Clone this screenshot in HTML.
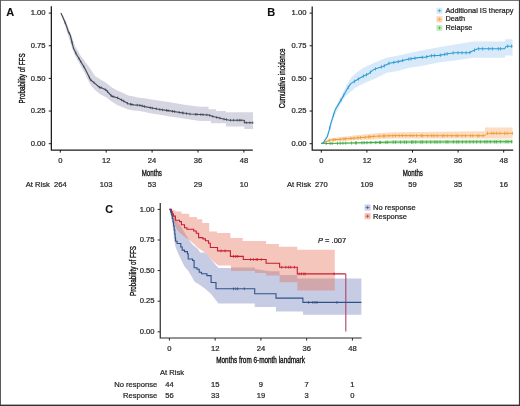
<!DOCTYPE html>
<html><head><meta charset="utf-8"><style>
html,body{margin:0;padding:0;background:#fff;width:520px;height:406px;overflow:hidden}
svg text{font-family:"Liberation Sans", sans-serif}
svg{will-change:transform;filter:blur(0.3px)}
svg text{stroke:currentColor;stroke-width:0.22px}
svg text.t{stroke-width:0.35px}
</style></head><body>
<svg width="520" height="406" viewBox="0 0 520 406" style="display:block">
<rect x="0" y="0" width="520" height="406" fill="#fff"/>
<text x="6.3" y="15.8" font-size="11" font-weight="bold" fill="#111" style="color:#111;stroke-width:0.1px">A</text>
<polygon points="60.9,12.9 63.0,15.5 65.0,19.5 67.5,25.5 70.0,31.5 72.5,38.5 75.0,46.0 78.0,51.0 80.3,55.3 85.0,61.6 90.5,68.9 95.0,76.1 100.5,79.4 106.1,82.8 111.6,87.2 117.2,90.5 122.7,92.7 128.3,95.5 133.8,96.6 139.3,97.7 144.9,98.3 150.0,99.3 160.0,100.8 170.0,102.2 180.0,104.0 190.0,105.5 200.0,106.7 208.6,106.7 208.6,109.2 216.0,109.2 216.0,111.0 225.9,111.0 225.9,112.2 253.0,112.2 253.0,128.9 244.3,128.9 244.3,126.4 225.9,126.4 225.9,123.3 211.0,123.3 211.0,120.9 200.0,120.9 190.0,119.5 180.0,118.0 170.0,116.5 160.0,114.8 150.0,113.2 144.9,112.1 139.3,111.0 133.8,110.5 128.3,109.4 122.7,107.2 117.2,104.9 111.6,101.6 106.1,97.2 100.5,94.4 95.0,90.0 91.0,85.5 88.0,80.0 85.0,73.5 82.4,68.9 78.0,61.0 75.0,55.5 72.0,48.0 69.5,40.0 67.0,32.0 64.5,24.0 62.5,18.0 60.9,12.9" fill="#d5d6e1"/>
<polyline points="60.9,12.9 62.5,16.5 64.6,21.2 66.5,26.0 68.3,31.6 70.2,35.0 71.2,39.0 72.2,43.1 73.6,48.6 76.3,54.0 80.3,60.7 84.4,67.5 87.8,74.3 90.5,79.7 94.6,83.1 99.3,87.2 101.0,87.6 106.1,90.0 111.6,96.1 117.2,97.7 122.7,100.5 128.3,103.8 133.8,104.9 139.3,105.2 144.9,106.6 152.0,108.0 160.0,109.5 170.0,110.9 180.0,112.5 190.0,114.0 200.0,114.5 208.6,115.0 213.0,116.5 218.5,117.8 223.4,119.0 229.6,120.2 244.3,120.2 244.3,122.7 253.0,122.7" fill="none" stroke="#434959" stroke-width="1.15" stroke-linejoin="round"/>
<path d="M65.2,21.5v2.6 M69.3,32.1v2.6 M72.0,41.0v2.6 M75.9,51.9v2.6 M79.2,57.5v2.6 M80.7,60.1v2.6 M83.7,65.1v2.6 M89.4,76.2v2.6 M90.9,78.7v2.6 M94.0,81.3v2.6 M99.5,85.9v2.6 M101.1,86.4v2.6 M105.4,88.4v2.6 M107.5,90.3v2.6 M111.2,94.4v2.6 M113.0,95.2v2.6 M117.6,96.6v2.6 M121.5,98.6v2.6 M123.7,99.8v2.6 M127.5,102.0v2.6 M130.5,102.9v2.6 M131.9,103.2v2.6 M137.2,103.8v2.6 M139.9,104.0v2.6 M142.2,104.6v2.6 M144.6,105.2v2.6 M150.3,106.4v2.6 M152.3,106.8v2.6 M156.3,107.5v2.6 M159.9,108.2v2.6 M162.6,108.6v2.6 M166.5,109.1v2.6 M168.1,109.3v2.6 M172.5,110.0v2.6 M174.6,110.3v2.6 M179.3,111.1v2.6 M182.3,111.6v2.6 M183.2,111.7v2.6 M186.5,112.2v2.6 M190.0,112.7v2.6 M195.4,113.0v2.6 M197.0,113.1v2.6 M200.8,113.2v2.6 M203.0,113.4v2.6 M206.8,113.6v2.6 M209.7,114.1v2.6 M212.8,115.1v2.6 M216.7,116.1v2.6 M219.9,116.8v2.6 M224.0,117.8v2.6 M226.5,118.3v2.6 M230.5,118.9v2.6 M233.5,118.9v2.6 M237.1,118.9v2.6 M239.3,118.9v2.6 M241.0,118.9v2.6 M246.3,121.4v2.6 M249.8,121.4v2.6 M252.8,121.4v2.6" stroke="#3b4252" stroke-width="0.7" fill="none"/>
<path d="M51.35,6.3 V150 H252.8" fill="none" stroke="#1a1a1a" stroke-width="1.25"/>
<path d="M48.75,13.1 H51.35" stroke="#1a1a1a" stroke-width="1"/>
<text x="45.550000000000004" y="15.39" font-size="7.6" text-anchor="end" fill="#262626" style="color:#262626" >1.00</text>
<path d="M48.75,45.75 H51.35" stroke="#1a1a1a" stroke-width="1"/>
<text x="45.550000000000004" y="48.04" font-size="7.6" text-anchor="end" fill="#262626" style="color:#262626" >0.75</text>
<path d="M48.75,78.4 H51.35" stroke="#1a1a1a" stroke-width="1"/>
<text x="45.550000000000004" y="80.69" font-size="7.6" text-anchor="end" fill="#262626" style="color:#262626" >0.50</text>
<path d="M48.75,111.05 H51.35" stroke="#1a1a1a" stroke-width="1"/>
<text x="45.550000000000004" y="113.34" font-size="7.6" text-anchor="end" fill="#262626" style="color:#262626" >0.25</text>
<path d="M48.75,143.7 H51.35" stroke="#1a1a1a" stroke-width="1"/>
<text x="45.550000000000004" y="145.99" font-size="7.6" text-anchor="end" fill="#262626" style="color:#262626" >0.00</text>
<path d="M60.3,150 V152.6" stroke="#1a1a1a" stroke-width="1"/>
<text x="60.3" y="162.74" font-size="7.6" text-anchor="middle" fill="#262626" style="color:#262626" >0</text>
<path d="M106.19999999999999,150 V152.6" stroke="#1a1a1a" stroke-width="1"/>
<text x="106.19999999999999" y="162.74" font-size="7.6" text-anchor="middle" fill="#262626" style="color:#262626" >12</text>
<path d="M152.1,150 V152.6" stroke="#1a1a1a" stroke-width="1"/>
<text x="152.1" y="162.74" font-size="7.6" text-anchor="middle" fill="#262626" style="color:#262626" >24</text>
<path d="M198.0,150 V152.6" stroke="#1a1a1a" stroke-width="1"/>
<text x="198.0" y="162.74" font-size="7.6" text-anchor="middle" fill="#262626" style="color:#262626" >36</text>
<path d="M243.89999999999998,150 V152.6" stroke="#1a1a1a" stroke-width="1"/>
<text x="243.89999999999998" y="162.74" font-size="7.6" text-anchor="middle" fill="#262626" style="color:#262626" >48</text>
<text x="151.8" y="175.7" font-size="8.6" text-anchor="middle" fill="#111" class="t" style="color:#111" textLength="20.2" lengthAdjust="spacingAndGlyphs">Months</text>
<text transform="translate(25.4,78.4) rotate(-90)" font-size="8.4" text-anchor="middle" fill="#111" class="t" style="color:#111" textLength="50" lengthAdjust="spacingAndGlyphs">Probability of FFS</text>
<text x="25.8" y="187.34" font-size="7.6" text-anchor="start" fill="#262626" style="color:#262626" >At Risk</text>
<text x="60.3" y="187.34" font-size="7.6" text-anchor="middle" fill="#262626" style="color:#262626" >264</text>
<text x="106.19999999999999" y="187.34" font-size="7.6" text-anchor="middle" fill="#262626" style="color:#262626" >103</text>
<text x="152.1" y="187.34" font-size="7.6" text-anchor="middle" fill="#262626" style="color:#262626" >53</text>
<text x="198.0" y="187.34" font-size="7.6" text-anchor="middle" fill="#262626" style="color:#262626" >29</text>
<text x="243.89999999999998" y="187.34" font-size="7.6" text-anchor="middle" fill="#262626" style="color:#262626" >10</text>
<text x="267.3" y="15.6" font-size="11" font-weight="bold" fill="#111" style="color:#111;stroke-width:0.1px">B</text>
<polygon points="321.3,143.4 395.0,140.2 512.5,139.6 512.5,143.6 395.0,143.7 321.3,143.8" fill="#c9ebc4"/>
<polygon points="321.3,143.3 330.0,138.6 353.5,135.5 376.5,133.3 395.0,132.3 485.0,131.3 485.0,127.5 512.5,127.5 512.5,138.4 485.0,138.4 395.0,138.6 353.5,140.3 330.0,141.5 321.3,143.3" fill="#fcdcc2"/>
<polygon points="321.3,143.4 323.0,142.5 325.5,138.0 327.5,133.0 329.5,125.0 331.5,118.0 333.5,111.5 336.0,106.0 338.5,101.0 341.0,96.0 345.0,88.2 351.3,77.2 357.0,72.3 363.1,67.7 373.8,63.1 386.2,57.7 398.5,55.4 409.2,53.1 420.0,50.8 440.0,46.9 455.0,44.6 473.0,41.5 505.0,41.5 505.0,39.2 512.5,39.2 512.5,55.4 505.0,55.4 505.0,57.7 473.0,57.7 455.0,60.5 440.0,62.3 420.0,66.2 409.2,67.7 398.5,70.8 386.2,73.1 375.4,78.5 364.6,83.1 355.4,87.7 349.2,93.1 345.0,96.5 342.5,101.0 340.0,105.0 337.0,111.0 334.5,116.5 332.5,121.5 330.5,129.0 328.5,135.5 326.5,140.0 324.0,143.8 321.3,143.4" fill="#d8eaf9"/>
<polyline points="321.3,143.6 395.0,142.1 512.5,141.7" fill="none" stroke="#3fa844" stroke-width="1"/>
<path d="M326.2,141.9v3.2 M330.1,141.8v3.2 M332.1,141.8v3.2 M337.5,141.7v3.2 M340.2,141.6v3.2 M342.9,141.6v3.2 M345.7,141.5v3.2 M351.6,141.4v3.2 M355.5,141.3v3.2 M356.3,141.3v3.2 M361.9,141.2v3.2 M364.2,141.1v3.2 M367.0,141.1v3.2 M370.9,141.0v3.2 M375.8,140.9v3.2 M379.6,140.8v3.2 M380.6,140.8v3.2 M385.8,140.7v3.2 M387.6,140.6v3.2 M393.2,140.5v3.2 M395.5,140.5v3.2 M400.6,140.5v3.2 M404.4,140.5v3.2 M406.5,140.5v3.2 M411.5,140.4v3.2 M412.9,140.4v3.2 M415.7,140.4v3.2 M420.8,140.4v3.2 M422.6,140.4v3.2 M426.6,140.4v3.2 M430.7,140.4v3.2 M434.8,140.4v3.2 M437.0,140.4v3.2 M440.1,140.3v3.2 M446.1,140.3v3.2 M447.9,140.3v3.2 M453.4,140.3v3.2 M456.7,140.3v3.2 M458.6,140.3v3.2 M462.4,140.3v3.2 M466.1,140.3v3.2 M469.9,140.2v3.2 M473.3,140.2v3.2 M476.7,140.2v3.2 M480.4,140.2v3.2 M484.8,140.2v3.2 M487.0,140.2v3.2 M490.3,140.2v3.2 M494.7,140.2v3.2 M496.7,140.2v3.2 M500.4,140.1v3.2 M505.9,140.1v3.2 M508.1,140.1v3.2 M511.6,140.1v3.2" stroke="#3fa844" stroke-width="0.8" fill="none"/>
<polyline points="321.3,143.3 330.4,140.0 353.5,138.2 376.5,136.2 395.0,135.6 430.0,135.7 485.0,135.7 487.0,133.3 512.5,133.3" fill="none" stroke="#ef9a2e" stroke-width="1"/>
<path d="M324.5,140.5v3.2 M329.2,138.8v3.2 M333.2,138.2v3.2 M335.1,138.0v3.2 M340.3,137.6v3.2 M343.9,137.3v3.2 M345.7,137.2v3.2 M350.9,136.8v3.2 M353.9,136.6v3.2 M358.0,136.2v3.2 M360.6,136.0v3.2 M365.1,135.6v3.2 M368.7,135.3v3.2 M370.1,135.2v3.2 M373.7,134.8v3.2 M379.0,134.5v3.2 M383.4,134.4v3.2 M384.8,134.3v3.2 M388.9,134.2v3.2 M392.8,134.1v3.2 M395.5,134.0v3.2 M399.1,134.0v3.2 M402.4,134.0v3.2 M406.1,134.0v3.2 M410.3,134.0v3.2 M412.9,134.1v3.2 M416.6,134.1v3.2 M421.3,134.1v3.2 M422.6,134.1v3.2 M427.7,134.1v3.2 M431.7,134.1v3.2 M433.9,134.1v3.2 M437.2,134.1v3.2 M442.4,134.1v3.2 M444.2,134.1v3.2 M447.6,134.1v3.2 M451.8,134.1v3.2 M456.1,134.1v3.2 M457.8,134.1v3.2 M462.0,134.1v3.2 M465.5,134.1v3.2 M470.5,134.1v3.2 M472.8,134.1v3.2 M477.6,134.1v3.2 M479.0,134.1v3.2 M483.0,134.1v3.2 M487.5,131.7v3.2 M491.7,131.7v3.2 M493.9,131.7v3.2 M496.7,131.7v3.2 M499.9,131.7v3.2 M504.6,131.7v3.2 M507.1,131.7v3.2 M512.4,131.7v3.2" stroke="#ef9a2e" stroke-width="0.8" fill="none"/>
<polyline points="321.3,143.4 323.0,143.2 325.0,140.0 327.2,136.9 329.1,130.7 330.9,123.3 333.4,115.3 335.2,109.8 338.9,103.6 343.9,95.0 345.8,91.5 347.5,88.5 350.8,83.6 355.4,80.8 363.1,76.2 368.5,73.8 373.8,69.4 378.0,68.0 383.1,66.4 389.2,63.3 398.5,61.6 407.7,59.3 420.0,57.4 425.4,57.1 430.8,55.8 439.2,55.4 447.7,53.8 454.6,52.8 469.2,52.8 473.1,50.8 477.7,48.8 504.6,48.8 506.2,46.2 512.5,46.2" fill="none" stroke="#2c9bd4" stroke-width="1.1" stroke-linejoin="round"/>
<path d="M329.7,126.5v3.4 M333.5,113.3v3.4 M341.0,98.3v3.4 M343.6,93.9v3.4 M348.3,85.6v3.4 M354.4,79.7v3.4 M358.4,77.3v3.4 M363.4,74.4v3.4 M366.5,73.0v3.4 M370.4,70.5v3.4 M375.4,67.2v3.4 M381.4,65.2v3.4 M384.3,64.1v3.4 M389.0,61.7v3.4 M393.8,60.8v3.4 M398.3,59.9v3.4 M402.7,58.8v3.4 M408.8,57.4v3.4 M411.0,57.1v3.4 M415.0,56.5v3.4 M422.3,55.6v3.4 M426.6,55.1v3.4 M431.5,54.1v3.4 M434.3,53.9v3.4 M440.4,53.5v3.4 M444.8,52.6v3.4 M447.2,52.2v3.4 M453.2,51.3v3.4 M458.0,51.1v3.4 M462.0,51.1v3.4 M466.1,51.1v3.4 M469.9,50.8v3.4 M474.5,48.5v3.4 M478.7,47.1v3.4 M482.7,47.1v3.4 M488.8,47.1v3.4 M492.4,47.1v3.4 M498.4,47.1v3.4 M500.6,47.1v3.4 M507.7,44.5v3.4 M511.6,44.5v3.4" stroke="#2c9bd4" stroke-width="0.8" fill="none"/>
<path d="M312.2,6.6 V150 H513.2" fill="none" stroke="#1a1a1a" stroke-width="1.25"/>
<path d="M309.59999999999997,13.1 H312.2" stroke="#1a1a1a" stroke-width="1"/>
<text x="306.4" y="15.39" font-size="7.6" text-anchor="end" fill="#262626" style="color:#262626" >1.00</text>
<path d="M309.59999999999997,45.75 H312.2" stroke="#1a1a1a" stroke-width="1"/>
<text x="306.4" y="48.04" font-size="7.6" text-anchor="end" fill="#262626" style="color:#262626" >0.75</text>
<path d="M309.59999999999997,78.4 H312.2" stroke="#1a1a1a" stroke-width="1"/>
<text x="306.4" y="80.69" font-size="7.6" text-anchor="end" fill="#262626" style="color:#262626" >0.50</text>
<path d="M309.59999999999997,111.05 H312.2" stroke="#1a1a1a" stroke-width="1"/>
<text x="306.4" y="113.34" font-size="7.6" text-anchor="end" fill="#262626" style="color:#262626" >0.25</text>
<path d="M309.59999999999997,143.7 H312.2" stroke="#1a1a1a" stroke-width="1"/>
<text x="306.4" y="145.99" font-size="7.6" text-anchor="end" fill="#262626" style="color:#262626" >0.00</text>
<path d="M321.3,150 V152.6" stroke="#1a1a1a" stroke-width="1"/>
<text x="321.3" y="162.74" font-size="7.6" text-anchor="middle" fill="#262626" style="color:#262626" >0</text>
<path d="M366.90000000000003,150 V152.6" stroke="#1a1a1a" stroke-width="1"/>
<text x="366.90000000000003" y="162.74" font-size="7.6" text-anchor="middle" fill="#262626" style="color:#262626" >12</text>
<path d="M412.5,150 V152.6" stroke="#1a1a1a" stroke-width="1"/>
<text x="412.5" y="162.74" font-size="7.6" text-anchor="middle" fill="#262626" style="color:#262626" >24</text>
<path d="M458.1,150 V152.6" stroke="#1a1a1a" stroke-width="1"/>
<text x="458.1" y="162.74" font-size="7.6" text-anchor="middle" fill="#262626" style="color:#262626" >36</text>
<path d="M503.70000000000005,150 V152.6" stroke="#1a1a1a" stroke-width="1"/>
<text x="503.70000000000005" y="162.74" font-size="7.6" text-anchor="middle" fill="#262626" style="color:#262626" >48</text>
<text x="412.8" y="175.7" font-size="8.6" text-anchor="middle" fill="#111" class="t" style="color:#111" textLength="20.2" lengthAdjust="spacingAndGlyphs">Months</text>
<text transform="translate(285.3,78.4) rotate(-90)" font-size="8.4" text-anchor="middle" fill="#111" class="t" style="color:#111" textLength="59.8" lengthAdjust="spacingAndGlyphs">Cumulative incidence</text>
<text x="287" y="187.34" font-size="7.6" text-anchor="start" fill="#262626" style="color:#262626" >At Risk</text>
<text x="321.3" y="187.34" font-size="7.6" text-anchor="middle" fill="#262626" style="color:#262626" >270</text>
<text x="366.90000000000003" y="187.34" font-size="7.6" text-anchor="middle" fill="#262626" style="color:#262626" >109</text>
<text x="412.5" y="187.34" font-size="7.6" text-anchor="middle" fill="#262626" style="color:#262626" >59</text>
<text x="458.1" y="187.34" font-size="7.6" text-anchor="middle" fill="#262626" style="color:#262626" >35</text>
<text x="503.70000000000005" y="187.34" font-size="7.6" text-anchor="middle" fill="#262626" style="color:#262626" >16</text>
<rect x="436.4" y="7.699999999999999" width="6" height="6" fill="#d8eaf9"/>
<path d="M437.6,10.7 H441.4 M439.5,9.1 V12.299999999999999" stroke="#2c9bd4" stroke-width="0.75" stroke-opacity="0.85"/>
<text x="445.4" y="12.84" font-size="7.38" text-anchor="start" fill="#1e1e1e" style="color:#1e1e1e" >Additional IS therapy</text>
<rect x="436.4" y="16.3" width="6" height="6" fill="#fbd7b6"/>
<path d="M437.6,19.3 H441.4 M439.5,17.7 V20.900000000000002" stroke="#ef9a2e" stroke-width="0.75" stroke-opacity="0.85"/>
<text x="445.4" y="21.439999999999998" font-size="7.38" text-anchor="start" fill="#1e1e1e" style="color:#1e1e1e" >Death</text>
<rect x="436.4" y="24.9" width="6" height="6" fill="#c9ebc4"/>
<path d="M437.6,27.9 H441.4 M439.5,26.299999999999997 V29.5" stroke="#3fa844" stroke-width="0.75" stroke-opacity="0.85"/>
<text x="445.4" y="30.04" font-size="7.38" text-anchor="start" fill="#1e1e1e" style="color:#1e1e1e" >Relapse</text>
<text x="105.2" y="213.1" font-size="10.8" font-weight="bold" fill="#111" style="color:#111;stroke-width:0.1px">C</text>
<polygon points="169.4,209.4 171.0,210.5 173.0,213.0 175.0,217.0 177.0,221.0 180.0,225.0 183.0,230.0 186.0,235.0 189.0,240.0 192.0,244.0 195.5,247.0 198.0,249.0 200.0,252.5 205.5,252.5 210.0,258.0 214.0,263.0 218.5,268.0 231.0,268.0 231.0,267.5 255.0,267.5 255.0,269.0 270.0,271.2 279.6,271.2 279.6,274.9 297.3,274.9 297.3,278.5 361.4,278.5 361.4,314.8 303.0,314.8 303.0,311.4 276.0,311.4 276.0,307.0 254.7,307.0 254.7,303.5 218.4,303.5 211.1,294.1 204.8,288.5 198.5,284.0 194.8,281.9 191.8,276.7 188.2,270.8 184.5,266.4 181.5,260.5 178.6,254.5 175.6,247.2 174.1,239.8 172.6,225.0 171.5,219.0 170.5,214.0 169.4,209.4" fill="#c7cce5"/>
<polygon points="169.4,209.4 172.0,209.4 172.0,210.2 175.4,210.2 175.4,211.5 181.5,211.5 181.5,213.8 189.2,213.8 189.2,217.0 197.0,217.0 197.0,219.2 202.3,219.2 202.3,223.0 209.2,223.0 209.2,227.0 209.2,231.5 217.0,231.5 217.0,233.0 230.4,233.0 230.4,237.9 242.7,237.9 242.7,241.0 266.1,241.0 266.1,244.0 278.9,244.0 278.9,246.8 297.3,246.8 297.3,249.8 334.8,249.8 334.8,290.5 297.3,290.5 297.3,282.3 279.6,282.3 279.6,275.6 266.1,275.6 266.1,273.0 255.0,273.0 255.0,271.0 231.0,271.0 231.0,265.5 218.5,265.5 214.0,262.0 210.0,258.0 206.0,253.0 202.0,250.5 198.0,248.0 194.5,244.5 190.0,240.5 186.0,238.0 183.0,235.5 180.0,233.0 177.5,230.0 175.0,226.0 173.5,222.0 172.0,218.0 170.5,213.0 169.4,209.4" fill="#e37058" fill-opacity="0.4"/>
<polyline points="169.4,209.4 171.5,209.4 171.5,211.5 172.3,211.5 172.3,213.8 173.4,213.8 173.4,216.1 175.4,216.1 175.4,220.2 179.5,220.2 179.5,221.6 181.4,221.6 181.4,224.7 184.5,224.7 184.5,227.8 186.9,227.8 186.9,229.2 193.7,229.2 193.7,231.0 196.2,231.0 196.2,233.3 198.6,233.3 198.6,237.6 202.9,237.6 202.9,238.9 205.4,238.9 205.4,240.7 208.5,240.7 208.5,243.2 210.3,243.2 210.3,247.5 217.5,247.5 217.5,250.9 230.4,250.9 230.4,256.4 243.3,256.4 243.3,259.5 266.1,259.5 266.1,263.3 279.6,263.3 279.6,267.2 297.3,267.2 297.3,273.9 345.8,273.9" fill="none" stroke="#c81e32" stroke-width="1.1"/>
<path d="M345.8,273.9 V331.5" stroke="#b04068" stroke-width="1.1"/>
<path d="M221.0,249.5v2.8 M225.0,249.5v2.8 M233.5,255.0v2.8 M235.8,255.0v2.8 M237.7,255.0v2.8 M250.5,258.1v2.8 M253.3,258.1v2.8 M256.2,258.1v2.8 M257.6,258.1v2.8 M261.3,258.1v2.8 M281.7,265.8v2.8 M285.9,265.8v2.8 M288.7,265.8v2.8 M290.7,265.8v2.8 M294.4,265.8v2.8 M299.2,272.5v2.8 M301.5,272.5v2.8 M303.8,272.5v2.8 M305.2,272.5v2.8 M334.1,272.5v2.8" stroke="#c81e32" stroke-width="0.8" fill="none"/>
<polyline points="169.4,209.4 170.5,209.4 170.5,212.0 171.5,212.0 171.5,215.0 172.3,215.0 172.3,218.5 173.0,218.5 173.0,222.0 173.6,222.0 173.6,226.0 174.2,226.0 174.2,230.0 174.8,230.0 174.8,234.0 175.2,234.0 175.2,238.0 175.6,238.0 175.6,241.2 177.1,241.2 177.1,243.5 180.8,243.5 180.8,247.0 182.2,247.0 182.2,250.1 184.5,250.1 184.5,251.6 187.4,251.6 187.4,253.8 188.2,253.8 188.2,259.0 192.6,259.0 192.6,260.5 194.1,260.5 194.1,267.8 197.0,267.8 197.0,269.3 199.2,269.3 199.2,272.3 201.5,272.3 201.5,273.7 206.9,273.7 206.9,275.6 211.1,275.6 211.1,282.5 216.0,282.5 216.0,288.8 254.7,288.8 254.7,293.8 276.0,293.8 276.0,298.1 302.9,298.1 302.9,302.4 361.4,302.4" fill="none" stroke="#2f5289" stroke-width="1.1"/>
<path d="M233.5,287.4v2.8 M235.8,287.4v2.8 M237.7,287.4v2.8 M244.3,287.4v2.8 M308.6,301.0v2.8 M312.8,301.0v2.8 M315.1,301.0v2.8 M317.0,301.0v2.8 M336.9,301.0v2.8" stroke="#2f5289" stroke-width="0.8" fill="none"/>
<path d="M160.25,203.1 V338 H361.6" fill="none" stroke="#2a2a2a" stroke-width="1.2"/>
<path d="M157.65,209.4 H160.25" stroke="#2a2a2a" stroke-width="1"/>
<text x="154.45" y="211.69" font-size="7.6" text-anchor="end" fill="#262626" style="color:#262626" >1.00</text>
<path d="M157.65,240.0 H160.25" stroke="#2a2a2a" stroke-width="1"/>
<text x="154.45" y="242.29000000000002" font-size="7.6" text-anchor="end" fill="#262626" style="color:#262626" >0.75</text>
<path d="M157.65,270.6 H160.25" stroke="#2a2a2a" stroke-width="1"/>
<text x="154.45" y="272.89" font-size="7.6" text-anchor="end" fill="#262626" style="color:#262626" >0.50</text>
<path d="M157.65,301.2 H160.25" stroke="#2a2a2a" stroke-width="1"/>
<text x="154.45" y="303.49" font-size="7.6" text-anchor="end" fill="#262626" style="color:#262626" >0.25</text>
<path d="M157.65,331.8 H160.25" stroke="#2a2a2a" stroke-width="1"/>
<text x="154.45" y="334.09000000000003" font-size="7.6" text-anchor="end" fill="#262626" style="color:#262626" >0.00</text>
<path d="M169.4,338 V340.6" stroke="#2a2a2a" stroke-width="1"/>
<text x="169.4" y="350.74" font-size="7.6" text-anchor="middle" fill="#262626" style="color:#262626" >0</text>
<path d="M215.15,338 V340.6" stroke="#2a2a2a" stroke-width="1"/>
<text x="215.15" y="350.74" font-size="7.6" text-anchor="middle" fill="#262626" style="color:#262626" >12</text>
<path d="M260.9,338 V340.6" stroke="#2a2a2a" stroke-width="1"/>
<text x="260.9" y="350.74" font-size="7.6" text-anchor="middle" fill="#262626" style="color:#262626" >24</text>
<path d="M306.65,338 V340.6" stroke="#2a2a2a" stroke-width="1"/>
<text x="306.65" y="350.74" font-size="7.6" text-anchor="middle" fill="#262626" style="color:#262626" >36</text>
<path d="M352.4,338 V340.6" stroke="#2a2a2a" stroke-width="1"/>
<text x="352.4" y="350.74" font-size="7.6" text-anchor="middle" fill="#262626" style="color:#262626" >48</text>
<text x="260.6" y="363.02" font-size="8.4" text-anchor="middle" fill="#111" class="t" style="color:#111" textLength="88.7" lengthAdjust="spacingAndGlyphs">Months from 6-month landmark</text>
<text transform="translate(135.5,271) rotate(-90)" font-size="8.4" text-anchor="middle" fill="#111" class="t" style="color:#111" textLength="50" lengthAdjust="spacingAndGlyphs">Probability of FFS</text>
<rect x="364.6" y="204.5" width="6" height="6" fill="#c7cce5"/>
<path d="M365.6,207.5 H369.5 M367.55,205.9 V209.1" stroke="#2f5289" stroke-width="0.75" stroke-opacity="0.85"/>
<text x="373" y="210.44" font-size="7.55" text-anchor="start" fill="#1e1e1e" style="color:#1e1e1e" >No response</text>
<rect x="364.6" y="213.2" width="6" height="6" fill="#f2c2b8"/>
<path d="M365.6,216.2 H369.5 M367.55,214.6 V217.79999999999998" stroke="#c81e32" stroke-width="0.75" stroke-opacity="0.85"/>
<text x="373" y="219.14" font-size="7.55" text-anchor="start" fill="#1e1e1e" style="color:#1e1e1e" >Response</text>
<text x="318" y="242.74" font-size="7.5" fill="#1e1e1e" style="color:#1e1e1e"><tspan font-style="italic">P</tspan> = .007</text>
<text x="160" y="375.04" font-size="7.6" text-anchor="start" fill="#262626" style="color:#262626" >At Risk</text>
<text x="157.3" y="386.84" font-size="7.6" text-anchor="end" fill="#262626" style="color:#262626" >No response</text>
<text x="157.3" y="397.54" font-size="7.6" text-anchor="end" fill="#262626" style="color:#262626" >Response</text>
<text x="169.4" y="386.84" font-size="7.6" text-anchor="middle" fill="#262626" style="color:#262626" >44</text>
<text x="169.4" y="397.54" font-size="7.6" text-anchor="middle" fill="#262626" style="color:#262626" >56</text>
<text x="215.15" y="386.84" font-size="7.6" text-anchor="middle" fill="#262626" style="color:#262626" >15</text>
<text x="215.15" y="397.54" font-size="7.6" text-anchor="middle" fill="#262626" style="color:#262626" >33</text>
<text x="260.9" y="386.84" font-size="7.6" text-anchor="middle" fill="#262626" style="color:#262626" >9</text>
<text x="260.9" y="397.54" font-size="7.6" text-anchor="middle" fill="#262626" style="color:#262626" >19</text>
<text x="306.65" y="386.84" font-size="7.6" text-anchor="middle" fill="#262626" style="color:#262626" >7</text>
<text x="306.65" y="397.54" font-size="7.6" text-anchor="middle" fill="#262626" style="color:#262626" >3</text>
<text x="352.4" y="386.84" font-size="7.6" text-anchor="middle" fill="#262626" style="color:#262626" >1</text>
<text x="352.4" y="397.54" font-size="7.6" text-anchor="middle" fill="#262626" style="color:#262626" >0</text>
<rect x="0" y="0" width="520" height="1" fill="#747474"/>
<rect x="0" y="0" width="1" height="406" fill="#5a5a5a"/>
<rect x="518.9" y="0" width="1.1" height="406" fill="#3a3a3a"/>
<rect x="0" y="404.6" width="520" height="1.4" fill="#333"/>
</svg>
</body></html>
